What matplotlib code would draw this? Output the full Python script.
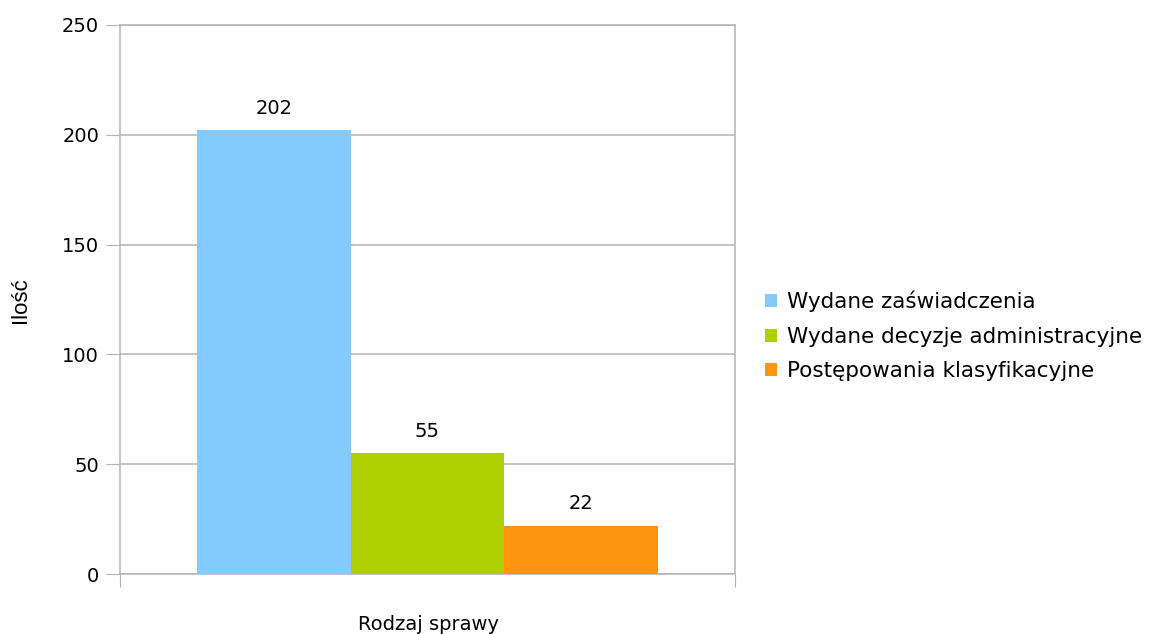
import numpy as np
import matplotlib.pyplot as plt
from matplotlib.patches import Patch

# Dane z wykresu
kategorie = ['Wydane zaświadczenia', 'Wydane decyzje administracyjne', 'Postępowania klasyfikacyjne']
wartosci = [202, 55, 22]
kolory = ['#83caff', '#aecf00', '#ff950e']
y_ticks = [0, 50, 100, 150, 200, 250]

siatka = '#b3b3b3'

fig = plt.figure(figsize=(11.53, 6.34), dpi=100)
ax = fig.add_axes([120 / 1153, 1 - 574 / 634, 615 / 1153, 549 / 634])

szer = 0.25
pozycje = (np.arange(len(wartosci)) - 1) * szer
for x, v, c in zip(pozycje, wartosci, kolory):
    ax.bar(x, v, width=szer, color=c, zorder=3)
    ax.annotate(str(v), (x, v), xytext=(0, 9), textcoords='offset points',
                ha='center', va='bottom', fontsize=14, family='DejaVu Sans')

ax.set_xlim(-0.5, 0.5)
ax.set_ylim(0, 250)
ax.set_yticks(y_ticks)
ax.set_xticks([-0.5, 0.5])
ax.set_xticklabels(['', ''])
ax.tick_params(axis='y', length=10, color=siatka, labelsize=14, pad=5)
ax.tick_params(axis='x', length=9, color=siatka)
ax.yaxis.grid(True, color=siatka, linewidth=1.1, zorder=0)
for s in ax.spines.values():
    s.set_color(siatka)
    s.set_linewidth(1.1)

# Opisy osi
fig.text(20 / 1153, 1 - 300 / 634, 'Ilość', rotation=90, fontsize=16,
         family='Liberation Sans', ha='center', va='center')
fig.text(428 / 1153, 1 - 624 / 634, 'Rodzaj sprawy', fontsize=14,
         family='DejaVu Sans', ha='center', va='center')

uchwyty = [Patch(facecolor=c, edgecolor='none') for c in kolory]
fig.legend(uchwyty, kategorie, loc='center left', bbox_to_anchor=(765 / 1153, 1 - 336 / 634),
           frameon=False, fontsize=15.5, handlelength=0.55, handleheight=0.55,
           handletextpad=0.45, labelspacing=0.68, borderaxespad=0, borderpad=0)

fig.savefig('out.png', dpi=100)
